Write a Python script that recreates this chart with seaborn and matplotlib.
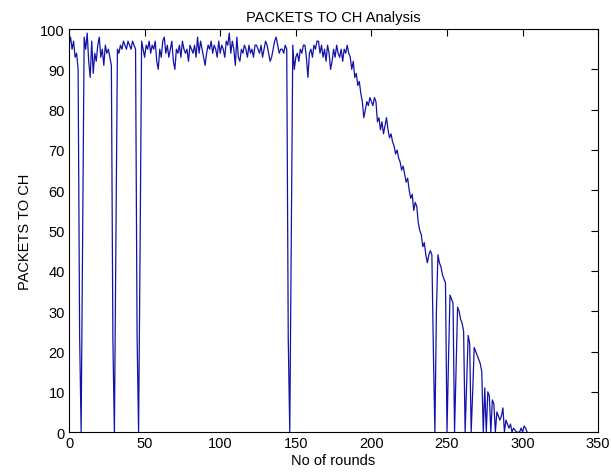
import numpy as np
import pandas as pd
import seaborn as sns
import matplotlib
matplotlib.use('Agg')
import matplotlib.pyplot as plt

## packets received by cluster heads in each round
packets = [
    96, 98, 95, 97, 93, 94, 90, 24, 0, 48,
    98, 95, 99, 92, 88, 97, 89, 94, 92, 96,
    98, 93, 95, 91, 96, 94, 95, 93, 91, 23,
    0, 47, 95, 94, 96, 95, 97, 96, 95, 97,
    96, 95, 97, 96, 95, 24, 0, 46, 97, 95,
    93, 96, 95, 97, 94, 96, 95, 97, 92, 90,
    95, 93, 97, 98, 94, 96, 93, 95, 97, 92,
    90, 95, 94, 96, 93, 97, 95, 94, 95, 92,
    96, 95, 94, 96, 93, 98, 94, 97, 95, 93,
    91, 94, 96, 95, 97, 94, 96, 95, 93, 97,
    94, 96, 95, 93, 97, 96, 99, 94, 97, 95,
    91, 98, 93, 92, 95, 94, 96, 95, 93, 96,
    94, 95, 93, 96, 96, 95, 94, 96, 93, 95,
    97, 96, 94, 92, 93, 95, 97, 98, 96, 94,
    95, 95, 94, 96, 95, 23, 0, 48, 96, 90,
    93, 94, 92, 95, 94, 96, 96, 93, 88, 94,
    95, 93, 96, 95, 97, 97, 94, 96, 93, 95,
    92, 96, 94, 90, 92, 95, 93, 96, 94, 93,
    95, 92, 95, 94, 96, 94, 93, 90, 92, 88,
    89, 86, 87, 84, 82, 78, 80, 82, 81, 83,
    82, 81, 83, 82, 77, 78, 75, 77, 74, 76,
    78, 75, 73, 74, 72, 71, 69, 70, 68, 67,
    65, 66, 64, 62, 63, 60, 58, 59, 55, 57,
    56, 52, 50, 49, 46, 47, 44, 42, 44, 45,
    44, 20, 0, 30, 44, 42, 41, 39, 38, 37,
    0, 18, 34, 33, 32, 0, 15, 31, 30, 28,
    27, 25, 0, 12, 24, 22, 0, 10, 21, 20,
    19, 18, 17, 15, 0, 11, 0, 10, 9, 0,
    8, 7, 0, 5, 4, 3, 4, 6, 0, 3,
    2, 1, 2, 0, 1, 0.5, 0, 0, 0, 1,
    0, 1.5, 1, 0,
]
rounds = np.arange(len(packets))

x_ticks = [0, 50, 100, 150, 200, 250, 300, 350]
y_ticks = [0, 10, 20, 30, 40, 50, 60, 70, 80, 90, 100]

df = pd.DataFrame({'round': rounds, 'packets': packets})

sns.set_style('white')
plt.rcParams['font.family'] = ['Liberation Sans', 'DejaVu Sans']

fig = plt.figure(figsize=(6.11, 4.77), dpi=100)
ax = fig.add_axes([0.113, 0.092, 0.866, 0.845])

sns.lineplot(data=df, x='round', y='packets', color='#1212a8', linewidth=0.9, ax=ax)

ax.set_xlim(0, 350)
ax.set_ylim(0, 100)
ax.set_xticks(x_ticks)
ax.set_yticks(y_ticks)
ax.tick_params(direction='in', length=5, width=0.8, top=True, right=True,
               labelsize=10.5, colors='black', pad=3)
for s in ax.spines.values():
    s.set_visible(True)
    s.set_color('black')
    s.set_linewidth(0.8)

ax.set_title('PACKETS TO CH Analysis', fontsize=10.5, color='black', pad=6)
ax.set_xlabel('No of rounds', fontsize=10.5, color='black', labelpad=2)
ax.set_ylabel('PACKETS TO CH', fontsize=10.5, color='black', labelpad=6)

fig.savefig('out.png', dpi=100)
plt.close(fig)
